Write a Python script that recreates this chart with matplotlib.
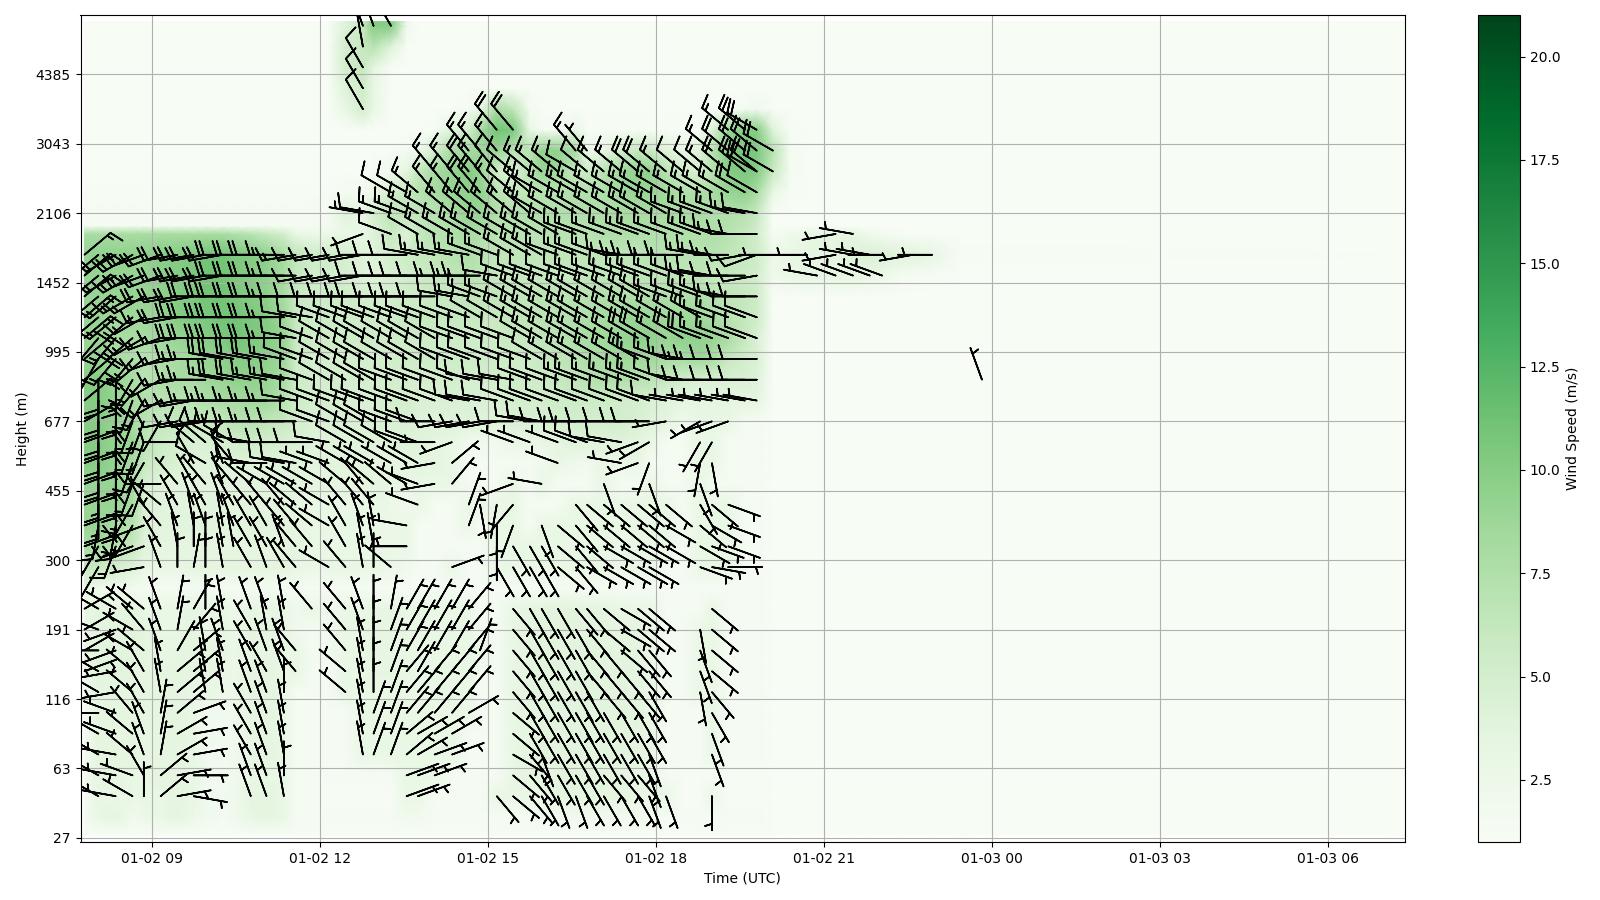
from datetime import datetime
import numpy as np
import matplotlib
matplotlib.use('Agg')
import matplotlib.pyplot as plt
import matplotlib.dates as mdates

TICK_LEVELS = [0, 10, 20, 30, 40, 50, 60, 70, 80, 90, 100, 110]
TICK_LABELS = ['27', '63', '116', '191', '300', '455', '677', '995', '1452', '2106', '3043', '4385']
XLIM_HOURS = (7.73, 31.37)

# scan times, hours after 01-02 00:00
TIMES = [7.80, 8.05, 8.36, 8.66, 8.86, 9.16, 9.46, 9.75, 9.96, 10.27, 10.46, 10.77, 11.05, 11.36, 11.57,
         11.86, 12.16, 12.46, 12.77, 12.96, 13.27, 13.55, 13.75, 14.05, 14.36, 14.66, 14.86,
         15.16, 15.45, 15.75, 15.96, 16.25, 16.57, 16.77, 17.07, 17.38, 17.68, 17.88, 18.18,
         18.48, 18.79, 19.00, 19.29, 19.59, 19.80]
EAST_TIMES = [20.09, 20.39, 20.70, 21.21, 21.52, 21.82, 22.36, 22.93, 23.43, 31.37]

# wind direction in tens of degrees, 0 = no barb
DIR_ROWS = {
 6: [0,30,28,30,36, 5,8,10,0, 0,0,34,34,35,0, 0,0,0,0,0,0, 7,7,0,0,0,0, 14,13,14,15,16,16,15,15,15,15,16,16, 0,0,18,0,0,0],
 9: [0,30,28,29,33, 5,8,9,0, 0,0,34,34,36,0, 0,0,0,0,0,0, 7,7,7,0,0,0, 0,13,14,15,15,15,15,14,14,14,16,0, 0,0,0,0,0,0],
 12: [0,30,28,31,34, 1,6,8,0, 0,0,33,34,35,0, 0,0,0,35,2,2, 5,6,7,7,0,0, 0,12,14,16,15,15,15,15,15,15,16,0, 0,0,16,0,0,0],
 15: [0,30,29,31,34, 1,6,8,0, 0,0,33,34,35,0, 0,0,0,35,2,2, 5,6,6,6,0,0, 0,13,15,15,15,15,15,15,15,15,15,0, 0,0,16,0,0,0],
 18: [0,27,29,32,33, 1,5,7,0, 0,0,33,34,35,0, 0,0,0,35,2,2, 4,4,4,4,6,0, 0,13,15,15,15,15,15,15,15,15,15,0, 0,0,15,0,0,0],
 21: [0,30,26,31,33, 35,5,5,35, 35,0,34,34,36,0, 0,0,31,35,36,2, 4,4,4,4,4,0, 0,14,15,15,15,15,15,14,14,14,15,0, 0,17,14,0,0,0],
 24: [7,30,26,31,33, 35,5,5,35, 35,0,34,33,34,32, 0,0,31,35,36,2, 4,3,4,4,4,0, 0,14,15,15,15,15,14,14,14,14,14,0, 0,16,13,0,0,0],
 27: [6,27,25,30,31, 34,3,5,35, 34,0,33,34,34,32, 0,0,32,35,36,2, 3,3,3,3,4,2, 0,14,15,15,15,15,14,14,13,14,14,0, 0,16,13,0,0,0],
 30: [6,29,25,30,32, 34,1,4,0, 35,0,33,35,35,0, 0,0,32,34,36,2, 3,3,3,3,4,0, 0,14,15,15,15,15,14,13,12,13,13,0, 0,17,13,0,0,0],
 33: [6,30,30,31,31, 34,1,3,36, 35,0,34,34,35,0, 32,0,32,34,36,1, 3,3,3,3,4,0, 0,14,15,15,15,14,14,13,12,13,13,0, 0,0,13,0,0,0],
 39: [0,21,0,0,26, 34,36,1,36, 35,0,33,34,33,32, 0,30,32,35,36,31, 0,0,0,7,0,0, 15,15,15,15,13,14,12,12,12,12,12,0, 0,11,10,9,0,0],
 42: [7,21,20,25,25, 33,35,36,36, 35,35,33,33,34,32, 32,0,33,35,35,0, 27,0,0,0,0,0, 18,15,15,15,13,14,13,12,12,12,12,12, 0,12,11,11,0,0],
 45: [7,19,19,21,25, 32,34,35,34, 35,34,33,33,32,32, 31,30,33,34,35,0, 28,0,0,0,2,0, 18,20,0,16,13,14,13,13,13,13,13,12, 0,13,12,11,0,0],
 48: [7,18,18,21,33, 31,33,34,33, 34,33,32,32,32,31, 31,30,32,32,32,0, 0,29,0,0,2,17, 19,22,0,0,0,14,13,13,13,13,13,13, 0,15,13,11,0,0],
 51: [7,18,18,20,20, 27,32,33,32, 34,32,31,30,30,30, 30,30,31,32,31,31, 30,29,26,4,0,0, 0,25,0,28,0,0,0,16,0,0,16,0, 0,16,0,0,0,0],
 54: [7,18,18,20,21, 0,0,33,30, 34,32,28,27,28,28, 29,29,30,30,30,30, 30,30,26,5,0,0, 0,0,0,0,29,0,0,0,28,25,20,0, 0,19,17,0,0,0],
 57: [7,18,18,20,20, 0,27,31,31, 30,30,28,27,27,27, 27,28,30,30,30,30, 29,29,27,25,0,0, 0,29,29,0,29,29,29,28,28,25,24,0, 0,21,21,0,0,0],
 60: [6,18,18,20,20, 21,26,26,26, 27,27,27,27,27,27, 29,29,30,30,30,29, 29,29,27,26,26,26, 26,27,28,28,27,27,27,27,27,27,27,26, 0,24,25,25,0,0],
 63: [5,18,18,20,21, 24,26,26,27, 27,27,27,27,27,28, 29,29,29,29,29,29, 29,29,29,29,28,28, 28,29,29,29,29,29,29,29,29,29,29,28, 28,28,28,28,28,28],
 66: [5,18,18,21,22, 24,26,27,27, 28,28,28,28,28,28, 29,30,30,30,30,29, 29,29,29,29,29,28, 28,28,29,29,29,29,29,29,29,29,29,29, 28,27,27,27,27,27],
 69: [5,21,22,22,23, 25,26,27,27, 28,28,28,28,28,29, 29,30,30,30,30,30, 30,30,30,29,29,29, 29,29,29,30,30,30,30,30,30,30,29,29, 28,27,27,27,27,27],
 72: [5,22,22,23,24, 25,26,27,27, 27,27,27,27,27,28, 29,30,30,30,30,30, 30,30,30,29,29,29, 29,29,30,30,30,30,30,30,30,30,30,30, 30,29,29,29,29,29],
 75: [5,23,23,23,24, 26,26,27,27, 27,27,27,27,27,28, 28,29,29,29,29,29, 29,29,29,29,29,30, 30,30,30,30,30,30,30,30,30,30,30,30, 30,30,29,29,29,29],
 78: [5,23,23,24,24, 26,26,26,27, 27,27,27,27,27,27, 27,27,27,27,27,27, 27,27,27,28,28,29, 29,30,30,30,30,30,30,30,30,30,30,29, 29,29,29,28,27,27],
 81: [5,23,24,24,25, 25,26,26,26, 26,27,27,27,27,27, 26,26,26,26,27,27, 27,27,27,27,27,27, 28,29,29,29,29,29,29,29,29,29,29,29, 29,28,28,27,27,26],
 84: [5,23,24,24,25, 25,26,26,26, 26,27,27,27,27,26, 26,26,26,26,27,27, 27,28,28,28,28,29, 29,30,30,30,29,29,29,29,28,27,27,27, 27,28,28,27,26,25],
 87: [0,0,0,0,0, 0,0,0,0, 0,0,0,0,0,0, 0,0,0,25,0,29, 0,30,30,30,30,30, 30,30,30,30,30,29,29,29,29,29,29,29, 29,29,29,28,27,27],
 90: [0,0,0,0,0, 0,0,0,0, 0,0,0,0,0,0, 0,0,0,28,28,29, 29,30,30,31,31,31, 31,31,31,30,30,30,30,30,30,30,30,30, 29,29,29,29,28,28],
 93: [0,0,0,0,0, 0,0,0,0, 0,0,0,0,0,0, 0,0,0,0,0,30, 30,31,32,32,32,32, 32,31,31,30,30,30,30,30,30,30,30,30, 30,30,30,30,30,0],
 96: [0,0,0,0,0, 0,0,0,0, 0,0,0,0,0,0, 0,0,0,0,0,0, 0,0,32,32,32,32, 32,31,31,31,31,30,31,31,31,31,31,31, 31,31,31,31,31,31],
 99: [0,0,0,0,0, 0,0,0,0, 0,0,0,0,0,0, 0,0,0,0,0,0, 0,0,0,0,32,32, 32,0,0,0,0,32,32,0,0,0,0,0, 0,0,31,31,31,31],
 102: [0,0,0,0,0, 0,0,0,0, 0,0,0,0,0,0, 0,0,0,0,0,0, 0,0,0,0,0,0, 32,32,0,0,0,0,0,0,0,0,0,0, 0,0,0,31,31,30],
}

# wind speed in m/s on the same rows and times
SPEED_ROWS = {
 3: [1.5,3,3.5,2,2.5, 3,3.5,2.5,2, 1.5,2,3,3.5,3,1.5, 1.3,1.3,1.3,1.3,1.3,1.3, 1.8,1.8,1.3,1.3,1.3,1.3, 1.3,1.5,1.5,1.8,1.8,2,2,2,1.8,1.8,1.5,1.5, 1.3,1.3,1.5,1.3,1.3,1.3],
 6: [1.5,3,3,3,3, 3,3.5,3,2, 1.8,2,3.5,3.5,3,1.5, 1.2,1.2,1.2,1.2,1.2,1.2, 3,3,1.3,1.3,1.3,1.2, 3,3,3,3,3.5,3.5,3.5,3.5,3.5,3,3,3, 1.2,1.2,2.8,1.2,1.2,1.2],
 9: [1.5,3.5,3.5,3,3, 3.5,3.5,3,2, 1.8,2,3,3,3,1.5, 1.3,1.3,1.3,1.3,1.3,1.3, 3,3,3,1.5,1.3,1.3, 1.5,3,3.5,3.5,3.5,3.7,3.7,3.5,3.5,3,3,1.5, 1.2,1.2,1.2,1.2,1.2,1.2],
 12: [1.5,3.5,3.5,3.5,3, 3.5,3.5,3,2, 1.8,2,3,3.5,3,1.5, 1.3,1.3,1.3,3,3,3, 3,3,3,3,1.5,1.3, 1.5,3,3.5,3.7,3.7,3.7,3.7,3.7,3.7,3.5,3,1.5, 1.3,1.3,3,1.3,1.3,1.3],
 15: [1.5,3.5,3.5,3.5,3, 3.5,3.5,3,2, 1.8,2,3,3.5,3,1.5, 1.3,1.3,1.3,3,3,3, 3,3,3,3,1.5,1.3, 1.5,3,3.5,3.7,3.7,3.8,3.8,3.7,3.7,3.5,3,1.5, 1.3,1.3,3,1.3,1.3,1.3],
 18: [1.5,3.5,3.5,3.5,3.5, 3.5,3.5,3,2, 1.8,2,3.3,3.5,3,1.5, 1.3,1.3,1.3,3,3,3, 3,3,3,3,3,1.3, 1.5,3,3.5,3.7,3.8,3.8,3.8,3.7,3.7,3.5,3,1.5, 1.3,1.3,3,1.3,1.3,1.3],
 21: [1.5,3.5,3.5,3.5,3.5, 3.5,3.5,3,3, 2.5,2.5,3.3,3.5,3,1.5, 1.3,1.5,3,3,3,3, 3,3,3,3,3,1.3, 1.5,3,3.5,3.7,3.8,3.8,3.8,3.7,3.7,3.5,3,1.5, 1.3,3,3,1.3,1.3,1.3],
 24: [3,3.7,3.7,3.5,3.5, 3.5,3.5,3.5,3.5, 3,2.5,3.3,3.5,3,3, 1.5,1.5,3,3,3.2,3.2, 3,3,3,3,3,1.5, 1.5,3,3.5,3.7,3.8,3.8,3.8,3.7,3.7,3.5,3,1.5, 1.3,3,3,1.3,1.3,1.3],
 27: [3,3.7,3.7,3.7,3.5, 3,3.2,3.5,3.5, 3.2,2.5,3.3,3.3,3,3, 1.5,1.8,3,3,3.2,3.2, 3,3,3,3,3,3, 1.5,3,3.5,3.7,3.8,3.8,3.8,3.7,3.5,3.5,3,1.5, 1.3,3,3,1.3,1.3,1.3],
 30: [3,3.7,3.7,3.7,3.5, 3,3,3.5,2.5, 3.2,2.5,3.3,3.5,3,2, 1.5,1.8,3,3,3.2,3.2, 3,3,3,3,3,1.5, 1.5,3,3.5,3.7,3.8,3.8,3.7,3.5,3.5,3.2,3,1.5, 1.3,3,3,1.3,1.3,1.3],
 33: [3,3.5,3.5,3.5,3, 3,3,3.2,3.2, 3.2,2.5,3.2,3.2,3,2, 3,1.8,3,3,3.2,3.2, 3,3,3,3,3,1.5, 1.5,3,3.5,3.5,3.7,3.7,3.5,3.5,3,3,3,1.5, 1.3,1.5,3,1.3,1.3,1.3],
 36: [3,2,2,1.8,1.5, 1.5,1.5,1.5,1.5, 1.5,1.5,1.5,1.5,1.5,1.5, 1.5,1.5,1.5,1.3,1.3,1.3, 1.3,1.3,1.3,1.3,1.3,1.3, 1.3,1.3,1.3,1.5,1.5,1.5,1.5,1.5,1.3,1.3,1.3,1.3, 1.3,1.3,1.3,1.3,1.3,1.3],
 39: [6,6,5,4,3, 3,3,3.5,3.5, 3.5,3.5,3.5,3.5,3.5,3, 2.5,3,3,3,3,2.8, 2,1.5,1.3,2.8,1.3,1.3, 3,3,3,3,3,3,3,3,3,3,3,1.5, 1.3,3,3,3,1.3,1.3],
 42: [8,8,7,6,4, 3.5,3.5,3.5,3.5, 3.5,3.5,3.5,3.5,3.5,3.5, 3,3,3,3,3,2.5, 2.8,1.5,1.3,1.3,1.3,1.3, 3,3,3,3,3,3,3,3,3,3,3,3, 1.5,3,3,3,1.5,1.3],
 45: [9,9,8,7,4.5, 3.7,3.7,3.7,3.7, 3.7,3.7,3.7,3.7,3.7,3.5, 3,3,3,3,3,2.5, 2.8,1.5,1.3,1.3,2.8,1.5, 3,3,1.5,3,3,3,3,3,3,3,3,3, 1.5,3,3,3,1.5,1.3],
 48: [9,9,9,8,4.5, 3.7,3.7,3.7,3.7, 3.7,3.7,3.7,3.7,3.7,3.5, 3,3,3,3,3,2.5, 2,2.8,1.5,1.5,2.8,2.8, 3,3,1.5,1.5,1.5,2.8,3,3,3,3,3,3, 1.5,3,3,3,1.5,1.3],
 51: [9,9,9,8,5, 3.7,3.7,3.7,3.7, 3.7,3.7,3.7,3.7,3.7,3.7, 3.5,3.5,3.5,3.5,3.5,3.2, 3,3,3,2.8,1.5,1.5, 1.5,3,1.5,3,1.5,1.5,1.5,3,1.5,1.5,3,1.5, 1.5,3,1.5,1.5,1.5,1.3],
 54: [10,10,9,8,6, 5,4.5,4,4, 4,4,4,4,4,4, 3.7,3.7,3.7,3.7,3.5,3.5, 3.5,3.5,3.5,2.8,1.5,1.5, 1.5,1.5,1.5,2,3,2,2,3,3,3,1.5,1.5, 1.5,3,3,1.5,1.3,1.3],
 57: [10,10,9,9,7, 5.5,5,4.5,4.5, 5,5,5.5,5,4.5,4.5, 4,4,4,4,4,4, 4,4,3.5,3,2,2, 2,3,3,3,3.5,4,4,4,4,3.5,3,1.5, 1.5,3,3,1.5,1.3,1.3],
 60: [10,10,9,8,7, 6,6,6,6, 6,7,7,6.5,6,5, 4.5,4.5,4.5,4.5,4.5,4.5, 4.5,4,4,4,4,4, 4,4.5,4.5,4.5,5,5,5,5,5,4.5,4,3.5, 2,3,3,3,1.5,1.3],
 63: [10,10,9,8,7.5, 7,7,7,7.5, 8,8,8.5,8.5,7,5.5, 5,5,4.5,4.5,4.5,5, 5,4.5,4.5,4.5,4.5,4.5, 4.5,5,5,5,5.5,5.5,5.5,5.5,5,5,4.5,4, 3.5,3.5,3.5,3.5,3.5,3.5],
 66: [10,10,9,8,7, 7.5,8,8,8.5, 9,9.5,9.5,9,8,5.5, 5,5,5,5,5,5, 5,5,5,5,5,5, 5,5.5,5.5,5.5,6,6.5,7,7.5,7.5,7,7,6, 5,4.5,4.5,4.5,4.5,4],
 69: [9,9,8,7.5,7, 7.5,8,8.5,9, 9.5,10,10,9.5,8.5,5.5, 5,5,5,5,5,5, 5.5,5.5,5.5,5.5,5.5,5.5, 5.5,5.5,5.5,6,6.5,7,7.5,8,8.5,8.5,8.5,8, 8,8.5,8,6,5,4.5],
 72: [9,9,8,8,8, 8.5,9,9.5,10, 10.5,11,10.5,10,9,6, 5.5,5.5,5.5,5.5,5.5,5.5, 5.5,5.5,5.5,5.5,5.5,5.5, 5.5,6,6,6.5,7,7.5,8,8.5,9,9.5,9.5,9, 9.5,9.5,9,8,6,4.5],
 75: [9,9,8.5,8.5,8.5, 9,10,10.5,10.5, 11,11,10.5,10,8.5,6, 5.5,5.5,5.5,5.5,5.5,5.5, 6,6,6,6,6,6, 6,6.5,6.5,7,7,7.5,7.5,8,8.5,9,9,8.5, 8.5,8.5,8,7,6,5.5],
 78: [9,9,9,9,9, 9.5,10,10.5,11, 11,10.5,10,9.5,8,6, 5.5,5.5,5.5,5,5,5, 5.5,5.5,6,6,6.5,6.5, 6.5,6.5,6.5,7,7,7,7,7.5,7.5,7.5,7.5,7.5, 7.5,7.5,7,6.5,6,5.5],
 81: [9,9,9,9,9, 9.5,10,10.5,11, 11,10.5,10,9.5,8,6, 5,5,4.5,4,4,4.5, 5,5.5,6,6.5,7,6.5, 6,6,6,6,6,6,6.5,6.5,6.5,6.5,6.5,6.5, 6.5,6.5,6,6,5.5,5],
 84: [9,9.5,9.5,9.5,9.5, 10,10,10.5,11, 11,10.5,10,9.5,8,6.5, 5.5,5.5,5,4,4,5, 5.5,6,6.5,7,7.5,7, 6.5,6.5,6.5,6.5,6.5,6.5,6.5,6.5,6.5,6.5,7,7, 7,7,7,6.5,6,5.5],
 87: [8,8,8,8,8, 8,8,8,8, 8,7.5,7,6,5,3, 2.5,2.5,3,3,4,6, 4,6,7,7.5,8,7.5, 7,7,7,7,7,7,7,7.5,7.5,7.5,7.5,7.5, 7.5,7.5,7.5,7,6,5],
 88.2: [1.4,1.4,1.4,1.4,1.4, 1.4,1.4,1.4,1.4, 1.4,1.4,1.4,1.4,1.4,1.5, 1.5,1.6,3.2,3,4.5,6.2, 5,6.2,7,7.7,8.5,8.2, 7.2,7.2,7.2,7.2,7.2,7.2,7.2,7.7,7.7,7.7,7.7,7.7, 7.7,7.7,7.5,7.2,6.5,5.5],
 90: [1.3,1.3,1.3,1.3,1.3, 1.3,1.3,1.3,1.3, 1.3,1.3,1.3,1.3,1.3,1.3, 1.3,1.5,4,3,5,6.5, 6.5,6.5,7,8,9,9, 7.5,7.5,7.5,7.5,7.5,7.5,7.5,7.5,8,8,8,8, 8,8,7.5,7.5,7,6],
 93: [1.1,1.1,1.1,1.1,1.1, 1.1,1.1,1.1,1.1, 1.1,1.1,1.1,1.1,1.1,1.1, 1.1,1.1,1.5,1.5,2.5,5, 6,7,8,9,9.5,9.5, 7,6,6.5,7,7,7.5,7.5,7.5,8.5,9,9,8.5, 7.5,7.5,8,9,9.5,8],
 96: [1.05,1.05,1.05,1.05,1.05, 1.05,1.05,1.05,1.05, 1.05,1.05,1.05,1.05,1.05,1.05, 1.05,1.05,1.05,1.05,1.3,2, 3.5,6,8,9,10,9, 5,4,7,9,8.5,6,5.5,7,8.5,9.5,9.5,7, 5,5,7,10,10.5,10],
 99: [1.05,1.05,1.05,1.05,1.05, 1.05,1.05,1.05,1.05, 1.05,1.05,1.05,1.05,1.05,1.05, 1.05,1.05,1.05,1.05,1.05,1.05, 1.3,2,5,8,8,8.5, 9,7,7,9.5,9.5,8,2,3,5,6,6,4, 3,4,7,10,11,10.5],
 102: [1.05,1.05,1.05,1.05,1.05, 1.05,1.05,1.05,1.05, 1.05,1.05,1.05,1.05,1.05,1.05, 1.05,1.05,1.05,1.05,1.05,1.05, 1.05,1.05,1.2,4,5,8, 11,10.5,3,1.5,1.5,3,1.2,1.2,1.2,1.2,1.2,1.2, 1.2,1.5,4,9,10,10],
 105: [1.05,1.05,1.05,1.05,1.05, 1.05,1.05,1.05,1.05, 1.05,1.05,1.05,1.05,1.05,1.05, 1.05,1.05,3,5,3,1.05, 1.05,1.05,1.05,1.05,1.3,3, 8,6.5,1.5,1.05,1.05,1.05,1.05,1.05,1.05,1.05,1.05,1.05, 1.05,1.05,1.05,1.2,1.5,2],
 108: [1.05,1.05,1.05,1.05,1.05, 1.05,1.05,1.05,1.05, 1.05,1.05,1.05,1.05,1.05,1.05, 1.05,1.05,4,5.5,3,1.05, 1.05,1.05,1.05,1.05,1.05,1.05, 1.05,1.05,1.05,1.05,1.05,1.05,1.05,1.05,1.05,1.05,1.05,1.05, 1.05,1.05,1.05,1.05,1.05,1.05],
 111: [1.05,1.05,1.05,1.05,1.05, 1.05,1.05,1.05,1.05, 1.05,1.05,1.05,1.05,1.05,1.05, 1.05,1.05,5,6,3.5,1.05, 1.05,1.05,1.05,1.05,1.05,1.05, 1.05,1.05,1.05,1.05,1.05,1.05,1.05,1.05,1.05,1.05,1.05,1.05, 1.05,1.05,1.05,1.05,1.05,1.05],
 114: [1.05,1.05,1.05,1.05,1.05, 1.05,1.05,1.05,1.05, 1.05,1.05,1.05,1.05,1.05,1.05, 1.05,1.05,5,6,7,4, 1.05,1.05,1.05,1.05,1.05,1.05, 1.05,1.05,1.05,1.05,1.05,1.05,1.05,1.05,1.05,1.05,1.05,1.05, 1.05,1.05,1.05,1.05,1.05,1.05],
 117: [1.05,1.05,1.05,1.05,1.05, 1.05,1.05,1.05,1.05, 1.05,1.05,1.05,1.05,1.05,1.05, 1.05,1.05,4,6,10,10, 2,1.05,1.05,1.05,1.05,1.05, 1.05,1.05,1.05,1.05,1.05,1.05,1.05,1.05,1.05,1.05,1.05,1.05, 1.05,1.05,1.05,1.05,1.05,1.05],
}

# pale streaks east of the last regular scan: level -> speeds on EAST_TIMES
EAST_SPEED = {
 81: [2,3,3.2,3.2,3.2,3,1.5,1.1,1.05,1.0],
 84: [2.5,3,3.2,3.5,4,4.5,4,3.2,1.2,1.0],
 87: [1.5,2,3,3.5,3.5,2,1.2,1.05,1.05,1.0],
 93: [3,1.2,1.05,1.05,1.05,1.05,1.05,1.05,1.05,1.0],
 96: [6,1.5,1.05,1.05,1.05,1.05,1.05,1.05,1.05,1.0],
 99: [7,1.5,1.05,1.05,1.05,1.05,1.05,1.05,1.05,1.0],
 102: [4,1.2,1.05,1.05,1.05,1.05,1.05,1.05,1.05,1.0],
}

# barbs away from the regular grid
EXTRA_HOURS = [20.09, 20.09, 20.70, 20.88, 21.21, 21.52, 21.82, 22.04, 21.21, 21.52, 21.82, 22.04, 22.59, 22.93,
               21.21, 21.52, 19.80, 19.80, 20.09, 23.82, 12.77, 12.77, 12.77, 12.77, 12.77, 12.96, 13.27]
EXTRA_LEVELS = [84, 99, 84, 81, 84, 84, 84, 81, 81, 81, 81, 84, 84, 84,
                87, 87, 93, 96, 96, 66, 105, 108, 111, 114, 117, 117, 117]
EXTRA_DIRS = [27, 30, 27, 28, 26, 28, 28, 29, 29, 29, 29, 27, 26, 27,
              26, 28, 30, 30, 30, 34, 33, 33, 33, 35, 34, 34, 33]
EXTRA_SPEEDS = [3.2, 10, 3.2, 3.2, 3.2, 3.5, 3.5, 3.2, 3.2, 3.2, 3.2, 3.5, 3.5, 3.2,
                3.2, 3.2, 6, 10, 10, 3.2, 5.5, 5.5, 5.5, 6, 6, 6, 6]

plt.rcParams['font.family'] = 'DejaVu Sans'
BASE = mdates.date2num(datetime(2024, 1, 2))


def to_date(hours):
    return BASE + np.asarray(hours, dtype=float) / 24.0


fig = plt.figure(figsize=(16, 9), dpi=100)
ax = fig.add_axes([80.5 / 1600, 58 / 900, (1405 - 80.5) / 1600, (842 - 15.3) / 900])
cax = fig.add_axes([1478 / 1600, 58 / 900, 42 / 1600, (842 - 15.3) / 900])

speed_levels = sorted(SPEED_ROWS)
mesh_levels = np.array([0.4] + speed_levels + [117.6])
mesh_times = np.array(TIMES + EAST_TIMES)
grid = np.full((len(mesh_levels), len(mesh_times)), 1.02)
n_west = len(TIMES)
for i, level in enumerate(mesh_levels):
    if level in SPEED_ROWS:
        grid[i, :n_west] = SPEED_ROWS[level]
        if level in EAST_SPEED:
            grid[i, n_west:] = EAST_SPEED[level]
grid[0, :n_west] = 1.1
grid[-1, :n_west] = SPEED_ROWS[117]

mesh = ax.pcolormesh(to_date(mesh_times), mesh_levels, grid, cmap='Greens', vmin=1, vmax=21,
                     shading='gouraud', zorder=1)

xs, ys, us, vs = [], [], [], []
for level, row in DIR_ROWS.items():
    for j, d in enumerate(row):
        if d:
            s = SPEED_ROWS[level][j] * 1.94
            rad = np.deg2rad(d * 10)
            xs.append(TIMES[j])
            ys.append(level)
            us.append(-s * np.sin(rad))
            vs.append(-s * np.cos(rad))
for h, level, d, sp in zip(EXTRA_HOURS, EXTRA_LEVELS, EXTRA_DIRS, EXTRA_SPEEDS):
    rad = np.deg2rad(d * 10)
    xs.append(h)
    ys.append(level)
    us.append(-sp * 1.94 * np.sin(rad))
    vs.append(-sp * 1.94 * np.cos(rad))
ax.barbs(to_date(xs), ys, us, vs, length=7, linewidth=1.2, color='black', zorder=3)

ax.set_xlim(*to_date(XLIM_HOURS))
ax.set_ylim(-0.6, 118.5)
ax.xaxis.set_major_locator(mdates.HourLocator(byhour=range(0, 24, 3)))
ax.xaxis.set_major_formatter(mdates.DateFormatter('%m-%d %H'))
ax.set_yticks(TICK_LEVELS)
ax.set_yticklabels(TICK_LABELS)
ax.grid(True)
ax.set_xlabel('Time (UTC)')
ax.set_ylabel('Height (m)')

cb = fig.colorbar(mesh, cax=cax)
cb.set_ticks([2.5, 5, 7.5, 10, 12.5, 15, 17.5, 20])
cb.set_label('Wind Speed (m/s)')

fig.savefig('out.png', dpi=100)
